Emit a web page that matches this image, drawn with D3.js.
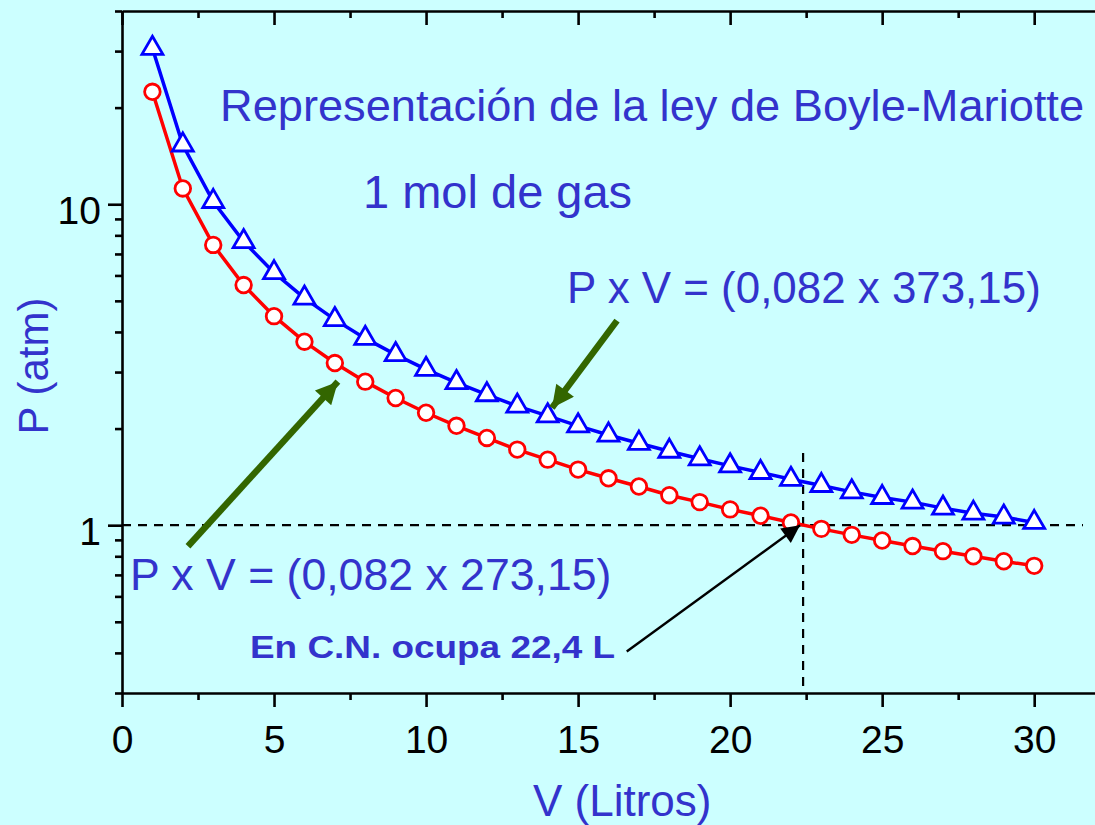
<!DOCTYPE html>
<html><head><meta charset="utf-8">
<script src="https://cdn.jsdelivr.net/npm/d3@7"></script>
<style>
html,body{margin:0;padding:0;background:#CCFFFF;}
svg{display:block;font-family:"Liberation Sans",Arial,sans-serif;}
</style></head>
<body>
<svg id="chart" width="1095" height="825"></svg>
<script>
// ---- data ----
const volumes = [1,2,3,4,5,6,7,8,9,10,11,12,13,14,15,16,17,18,19,20,21,22,23,24,25,26,27,28,29,30];
const pressure273 = [22.40,11.20,7.47,5.60,4.48,3.73,3.20,2.80,2.49,2.24,2.04,1.87,1.72,1.60,1.49,1.40,1.32,1.24,1.18,1.12,1.07,1.02,0.974,0.933,0.896,0.861,0.830,0.800,0.772,0.747];
const pressure373 = [30.60,15.30,10.20,7.65,6.12,5.10,4.37,3.82,3.40,3.06,2.78,2.55,2.35,2.19,2.04,1.91,1.80,1.70,1.61,1.53,1.46,1.39,1.33,1.27,1.22,1.18,1.13,1.09,1.06,1.02];
const xMajorTicks = [0,5,10,15,20,25,30];
const xMinorTicks = [2.5,7.5,12.5,17.5,22.5,27.5];
const yMajorTicks = [1,10];
const yMinorTicks = [0.3,0.4,0.5,0.6,0.7,0.8,0.9,2,3,4,5,6,7,8,9,20,30,40];
const title = "Representación de la ley de Boyle-Mariotte";
const subtitle = "1 mol de gas";
const label373 = "P x V = (0,082 x 373,15)";
const label273 = "P x V = (0,082 x 273,15)";
const noteCN = "En C.N. ocupa 22,4 L";
const cnVolume = 22.4;
const refPressure = 1;

(function(){
const svg = d3.select("#chart");
const mLeft = 122, mRight = 1095, mTop = 11, mBottom = 693;
const x = d3.scaleLinear().domain([0, 32]).range([mLeft, mRight]);
const y = d3.scaleLog().domain([0.3, 40]).range([mBottom, mTop]);

const textColor = "#3333CC";
const axisW = 2.6;

const defs = svg.append("defs");
function marker(id, color, w, h){
  defs.append("marker").attr("id", id).attr("viewBox","0 0 10 10")
    .attr("refX", 10).attr("refY", 5).attr("markerUnits","userSpaceOnUse")
    .attr("markerWidth", w).attr("markerHeight", h).attr("orient","auto")
    .append("path").attr("d","M0,0 L10,5 L0,10 z").attr("fill", color);
}
marker("gArrow", "#336600", 26, 22);
marker("kArrow", "#000000", 26, 18);

// reference dashed lines
svg.append("line")
  .attr("x1", x(0)).attr("x2", 1083)
  .attr("y1", y(refPressure)).attr("y2", y(refPressure))
  .attr("stroke","#000").attr("stroke-width",2.2).attr("stroke-dasharray","9,7");
svg.append("line")
  .attr("x1", x(cnVolume)).attr("x2", x(cnVolume))
  .attr("y1", 453).attr("y2", mBottom)
  .attr("stroke","#000").attr("stroke-width",2.2).attr("stroke-dasharray","9,7");

function styleAxis(g){
  g.select(".domain").attr("stroke","#000").attr("stroke-width",axisW);
  g.selectAll(".tick line").attr("stroke","#000").attr("stroke-width",axisW);
}
const yAll = yMajorTicks.concat(yMinorTicks);
const gy = svg.append("g").attr("transform",`translate(${mLeft},0)`)
  .call(d3.axisLeft(y).tickValues(yAll).tickSizeOuter(0)
    .tickFormat(d => yMajorTicks.includes(d) ? d3.format("d")(d) : ""));
styleAxis(gy);
gy.selectAll(".tick line").attr("x2", d => yMajorTicks.includes(d) ? -14 : -7);
gy.selectAll(".tick text").attr("font-size",39).attr("fill","#000")
  .attr("font-family","Liberation Sans, Arial, sans-serif")
  .attr("x",-21).attr("dy","0.5em");

const xAll = xMajorTicks.concat(xMinorTicks);
const gx = svg.append("g").attr("transform",`translate(0,${mBottom})`)
  .call(d3.axisBottom(x).tickValues(xAll).tickSizeOuter(0)
    .tickFormat(d => xMajorTicks.includes(d) ? d3.format("d")(d) : ""));
styleAxis(gx);
gx.selectAll(".tick line").attr("y2", d => xMajorTicks.includes(d) ? 14 : 7);
gx.selectAll(".tick text").attr("font-size",39).attr("fill","#000")
  .attr("font-family","Liberation Sans, Arial, sans-serif")
  .attr("y",32).attr("dy","0.71em");

const gt = svg.append("g").attr("transform",`translate(0,${mTop})`)
  .call(d3.axisBottom(x).tickValues(xAll).tickSizeOuter(0).tickFormat(""));
styleAxis(gt);
gt.selectAll(".tick line").attr("y2", d => xMajorTicks.includes(d) ? 14 : 7);

// series
const line = d3.line().x((d,i) => x(volumes[i])).y(d => y(d));
svg.append("path").datum(pressure273).attr("d", line)
  .attr("fill","none").attr("stroke","#FF0000").attr("stroke-width",3.5);
svg.append("path").datum(pressure373).attr("d", line)
  .attr("fill","none").attr("stroke","#0000FF").attr("stroke-width",3.5);

svg.append("g").selectAll("circle").data(pressure273).join("circle")
  .attr("cx",(d,i)=>x(volumes[i])).attr("cy",d=>y(d)).attr("r",7.8)
  .attr("fill","#fff").attr("stroke","#FF0000").attr("stroke-width",2.8);

const tri = d3.symbol().type(d3.symbolTriangle).size(190);
svg.append("g").selectAll("path").data(pressure373).join("path")
  .attr("d", tri)
  .attr("transform",(d,i)=>`translate(${x(volumes[i])},${y(d)})`)
  .attr("fill","#fff").attr("stroke","#0000FF").attr("stroke-width",2.8);

// arrows
svg.append("line")
  .attr("x1", x(2.17)).attr("y1", y(0.86)).attr("x2", x(7.1)).attr("y2", y(2.8))
  .attr("stroke","#336600").attr("stroke-width",6.5).attr("marker-end","url(#gArrow)");
svg.append("line")
  .attr("x1", x(16.28)).attr("y1", y(4.34)).attr("x2", x(14.14)).attr("y2", y(2.32))
  .attr("stroke","#336600").attr("stroke-width",6.5).attr("marker-end","url(#gArrow)");
svg.append("line")
  .attr("x1", x(16.6)).attr("y1", y(0.404)).attr("x2", x(22.3)).attr("y2", y(1.0))
  .attr("stroke","#000").attr("stroke-width",2.4).attr("marker-end","url(#kArrow)");

function txt(str, xx, yy, size, weight){
  return svg.append("text").attr("x",xx).attr("y",yy).attr("font-size",size)
    .attr("font-weight",weight||"normal").attr("fill",textColor).text(str);
}
txt(title, 220, 121, 45.2);
txt(subtitle, 363, 208, 47);
txt(label373, 567, 303, 43.9);
txt(label273, 130, 590, 44.6);
txt(noteCN, 250, 658, 31, "bold").attr("textLength", 365).attr("lengthAdjust","spacingAndGlyphs");
txt("V (Litros)", 533, 816, 44);
svg.append("text").attr("transform","translate(48,366) rotate(-90)")
  .attr("text-anchor","middle").attr("font-size",42).attr("fill",textColor).text("P (atm)");
})();
</script>
</body></html>
